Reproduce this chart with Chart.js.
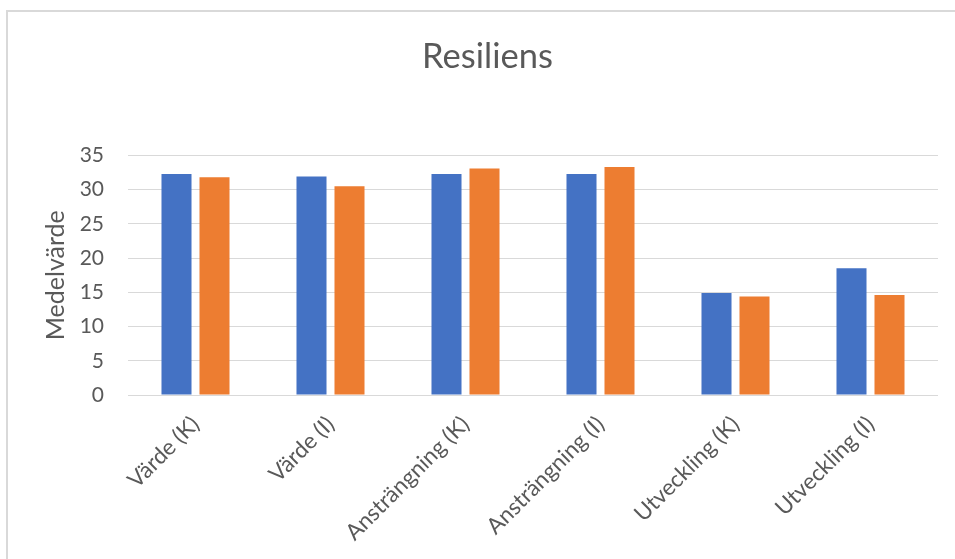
<!DOCTYPE html>
<html lang="sv">
<head>
<meta charset="utf-8">
<title>Resiliens</title>
<script src="https://cdn.jsdelivr.net/npm/chart.js@4/dist/chart.umd.min.js"></script>
<style>
  html, body { margin: 0; padding: 0; background: #ffffff; }
  #wrap { width: 955px; height: 559px; }
</style>
</head>
<body>
<div id="wrap"><canvas id="chart" width="955" height="559"></canvas></div>
<script>
// Categories and mean values per group
const categories = ['Värde (K)', 'Värde (I)', 'Ansträngning (K)', 'Ansträngning (I)', 'Utveckling (K)', 'Utveckling (I)'];
const seriesBlue = [32.3, 31.9, 32.3, 32.3, 14.9, 18.5];
const seriesOrange = [31.8, 30.5, 33.1, 33.3, 14.4, 14.6];
const yTicks = [0, 5, 10, 15, 20, 25, 30, 35];

const TEXT = '#595959';
const GRID = '#d9d9d9';
const FONT = 'Lato, "Open Sans", sans-serif';

// Light frame along the top and left edges of the chart
const framePlugin = {
  id: 'frame',
  beforeDraw(chart) {
    const ctx = chart.ctx;
    ctx.save();
    ctx.fillStyle = '#ffffff';
    ctx.fillRect(0, 0, chart.width, chart.height);
    ctx.strokeStyle = GRID;
    ctx.lineWidth = 2;
    ctx.beginPath();
    ctx.moveTo(7, chart.height);
    ctx.lineTo(7, 11);
    ctx.lineTo(chart.width, 11);
    ctx.stroke();
    ctx.restore();
  }
};

new Chart(document.getElementById('chart'), {
  type: 'bar',
  data: {
    labels: categories,
    datasets: [
      { label: 'K', data: seriesBlue, backgroundColor: '#4472C4' },
      { label: 'I', data: seriesOrange, backgroundColor: '#ED7D31' }
    ]
  },
  options: {
    responsive: false,
    animation: false,
    categoryPercentage: 0.563,
    barPercentage: 0.79,
    layout: { padding: { left: 37, right: 17, top: 0, bottom: 5 } },
    plugins: {
      legend: { display: false },
      tooltip: { enabled: false },
      title: {
        display: true,
        text: 'Resiliens',
        color: TEXT,
        font: { family: FONT, size: 34.5, weight: 'normal' },
        padding: { top: 36, bottom: 78 }
      }
    },
    scales: {
      y: {
        min: 0,
        max: 35,
        afterBuildTicks(scale) { scale.ticks = yTicks.map(v => ({ value: v })); },
        afterFit(scale) { scale.width = 91; },
        ticks: { color: TEXT, font: { family: FONT, size: 21 }, padding: 24 },
        grid: { color: GRID, lineWidth: 1, drawTicks: false },
        border: { display: false },
        title: {
          display: true,
          text: 'Medelvärde',
          color: TEXT,
          font: { family: FONT, size: 25 },
          padding: { top: 4, bottom: 0 }
        }
      },
      x: {
        grid: { display: false },
        border: { display: false },
        ticks: {
          color: TEXT,
          font: { family: FONT, size: 22.5 },
          maxRotation: 45,
          minRotation: 45,
          padding: 8
        }
      }
    }
  },
  plugins: [framePlugin]
});
</script>
</body>
</html>
